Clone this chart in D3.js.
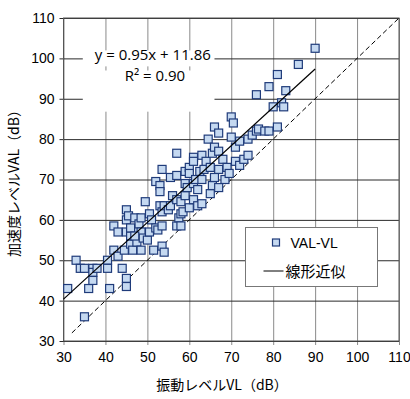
<!DOCTYPE html>
<html>
<head>
<meta charset="utf-8">
<script src="https://cdn.jsdelivr.net/npm/d3@7"></script>
<style>
  body { margin: 0; background: #fff; }
  svg text { fill: #000; }
</style>
</head>
<body>
<div class="chart"></div>
<script>
// tick values
const xTicks = [30, 40, 50, 60, 70, 80, 90, 100, 110];
const yTicks = [30, 40, 50, 60, 70, 80, 90, 100, 110];

// VL (x) / VAL (y) pairs
const vl = [31, 33, 34, 35, 35, 36, 37, 37, 37, 38, 40.5, 40.5, 41, 42, 42, 43, 43, 44, 44.5, 45,
  45, 45, 45, 45, 45.5, 46, 46, 46.5, 47, 47.5, 47.5, 48, 48.5, 48.5, 48.5, 49, 49.5, 50, 50.5, 50.5,
  51, 51.5, 52, 52, 52.5, 53, 53, 53, 53.5, 53.5, 53.5, 53.5, 54, 55, 55.5, 55.5, 56, 57, 57, 57,
  57, 57.5, 58, 58, 58.5, 59, 59, 59, 59.5, 60, 60, 60, 61, 61, 61, 61, 61.5, 62, 62, 62.5,
  63, 63, 63.5, 64, 64.5, 65, 65, 65.5, 65.5, 66, 66, 66, 67, 67, 67, 68, 68.5, 69, 69.5, 70,
  70, 70.5, 71, 71, 72, 72, 73, 74, 74, 75, 76, 76, 76.5, 78, 79, 79, 80, 81, 81, 82,
  82.5, 83, 86, 90, 63, 67, 54, 58, 46, 47];
const val = [43, 50, 48, 48, 36, 43, 48, 47, 45, 48, 50, 48, 43, 58.5, 52.5, 57, 51, 48, 52.5, 62.5,
  60, 57, 45.5, 43.5, 61, 56, 54, 52.5, 60.5, 54.5, 57.5, 59, 60.5, 57, 52.5, 55.5, 64.5, 55, 57, 61.5,
  60, 52.5, 69.5, 58, 57.5, 68.5, 67, 63.5, 72.5, 62, 58.5, 53.5, 63.5, 62.5, 70.5, 63.5, 66, 71, 76.5, 65,
  58.5, 60.5, 64.5, 61.5, 62, 72, 69, 66, 68, 73, 71.5, 63, 75.5, 74.5, 69, 65, 70, 63.5, 67.5, 72,
  70, 76, 72.5, 74.5, 80, 66.5, 73, 68.5, 76.5, 83, 78, 70.5, 81.5, 77, 72.5, 75, 70, 73, 71.5, 85.5,
  80.5, 84, 74.5, 78, 79.5, 73.5, 75, 76, 80, 81, 91, 82, 82.5, 82, 93, 82, 88, 83, 96, 89,
  88, 92, 98.5, 102.5, 64, 68, 52, 58.5, 58, 56];

// fit and 1:1 reference
const slope = 0.95, intercept = 11.86;
const fitRange = [30, 90];
const refRange = [32, 110];

const margin = {top: 18, right: 11, bottom: 58, left: 63.5};
const W = 410, H = 399;
const width = W - margin.left - margin.right;
const height = H - margin.top - margin.bottom;

const svg = d3.select('.chart').append('svg')
  .attr('width', W).attr('height', H)
  .append('g')
  .attr('transform', `translate(${margin.left},${margin.top})`);

const x = d3.scaleLinear().domain([30, 110]).range([0, width]);
const y = d3.scaleLinear().domain([30, 110]).range([height, 0]);

// vertical grid (gray) with ticks below
svg.append('g')
  .attr('transform', `translate(0,${height})`)
  .call(d3.axisBottom(x).tickValues(xTicks).tickSize(-height).tickSizeOuter(0).tickPadding(8))
  .call(g => g.select('.domain').remove())
  .call(g => g.selectAll('line').attr('stroke', '#8a8a8a').attr('y2', -height).attr('y1', 4))
  .call(g => g.selectAll('text').attr('font-family', 'Liberation Sans, Arial, sans-serif').attr('font-size', 14).attr('dy', '0.95em'));

// horizontal grid (dark) with ticks left
svg.append('g')
  .call(d3.axisLeft(y).tickValues(yTicks).tickSize(-width).tickSizeOuter(0).tickPadding(9))
  .call(g => g.select('.domain').remove())
  .call(g => g.selectAll('line').attr('stroke', '#2a2a2a').attr('x1', -4))
  .call(g => g.selectAll('text').attr('font-family', 'Liberation Sans, Arial, sans-serif').attr('font-size', 14));

// frame
svg.append('rect').attr('width', width).attr('height', height)
  .attr('fill', 'none').attr('stroke', '#555').attr('stroke-width', 1);

// 1:1 dashed line
svg.append('line')
  .attr('x1', x(refRange[0])).attr('y1', y(refRange[0]))
  .attr('x2', x(refRange[1])).attr('y2', y(refRange[1]))
  .attr('stroke', '#000').attr('stroke-width', 1).attr('stroke-dasharray', '5,3');

// points
const pts = vl.map((v, i) => ({x: v, y: val[i]}));
const s = 8;
svg.selectAll('rect.pt')
  .data(pts)
  .enter()
  .append('rect')
  .attr('class', 'pt')
  .attr('x', d => x(d.x) - s / 2)
  .attr('y', d => y(d.y) - s / 2)
  .attr('width', s).attr('height', s)
  .attr('fill', '#c5d9f1')
  .attr('stroke', '#1f3b7a')
  .attr('stroke-width', 1.2);

// trend line
svg.append('line')
  .attr('x1', x(fitRange[0])).attr('y1', y(slope * fitRange[0] + intercept))
  .attr('x2', x(fitRange[1])).attr('y2', y(slope * fitRange[1] + intercept))
  .attr('stroke', '#000').attr('stroke-width', 1.2);

// equation label
const eqG = svg.append('g');
eqG.append('rect')
  .attr('x', x(34.6)).attr('y', y(97)).attr('width', x(66) - x(34.6)).attr('height', y(86.8) - y(97))
  .attr('fill', '#fff');
eqG.append('rect')
  .attr('x', x(34.6)).attr('y', y(100) - 8).attr('width', x(66) - x(34.6)).attr('height', 16)
  .attr('fill', '#fff');
eqG.append('text')
  .attr('x', x(51.3)).attr('y', 60 - margin.top)
  .attr('text-anchor', 'middle')
  .attr('font-family', 'Open Sans, Noto Sans, sans-serif').attr('font-size', 15)
  .text('y = 0.95x + 11.86');
eqG.append('text')
  .attr('x', x(51.8)).attr('y', 80.7 - margin.top)
  .attr('text-anchor', 'middle')
  .attr('font-family', 'Open Sans, Noto Sans, sans-serif').attr('font-size', 15)
  .text('R² = 0.90');

// legend
const lg = svg.append('g').attr('transform', `translate(${245.5 - margin.left},${227.5 - margin.top})`);
lg.append('rect').attr('width', 132).attr('height', 59)
  .attr('fill', '#fff').attr('stroke', '#777');
lg.append('rect').attr('x', 27).attr('y', 11.5).attr('width', 7).attr('height', 7)
  .attr('fill', '#c5d9f1').attr('stroke', '#1f3b7a').attr('stroke-width', 1.2);
lg.append('text').attr('x', 45).attr('y', 20)
  .attr('font-family', 'Liberation Sans, Arial, sans-serif').attr('font-size', 14)
  .text('VAL-VL');
lg.append('line').attr('x1', 18).attr('x2', 38).attr('y1', 43.5).attr('y2', 43.5)
  .attr('stroke', '#000').attr('stroke-width', 1);
lg.append('text').attr('x', 40).attr('y', 49)
  .attr('font-family', 'Noto Sans CJK JP, sans-serif').attr('font-size', 15)
  .text('線形近似');

// axis titles
svg.append('text')
  .attr('x', 222 - margin.left).attr('y', 390 - margin.top)
  .attr('text-anchor', 'middle')
  .attr('font-family', 'Noto Sans CJK JP, sans-serif').attr('font-size', 14)
  .text('振動レベルVL（dB）');
svg.append('text')
  .attr('transform', `translate(${19 - margin.left},${180 - margin.top}) rotate(-90)`)
  .attr('text-anchor', 'middle')
  .attr('font-family', 'Noto Sans CJK JP, sans-serif').attr('font-size', 14)
  .text('加速度レベルVAL（dB）');
</script>
</body>
</html>
